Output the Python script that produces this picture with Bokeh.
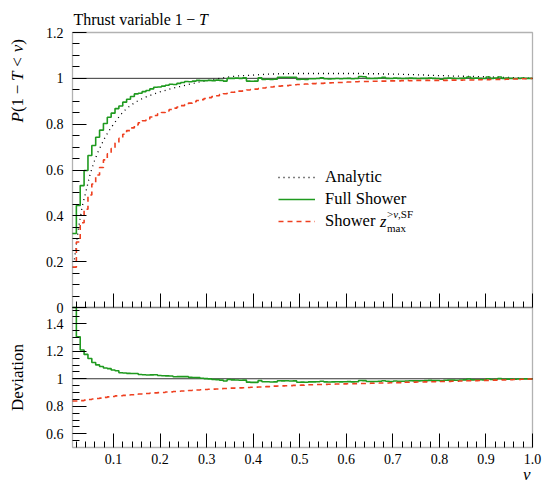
import math
import numpy as np
from bokeh.plotting import figure
from bokeh.models import Range1d, LinearAxis, FixedTicker, Label, Legend, LegendItem, BoxAnnotation
from bokeh.embed import file_html
from bokeh.resources import INLINE

# ---------------- data ----------------
analytic = [
    0.21, 0.341, 0.44, 0.508, 0.578, 0.632, 0.675, 0.711, 0.745, 0.773,
    0.797, 0.82, 0.842, 0.86, 0.875, 0.887, 0.898, 0.907, 0.915, 0.922,
    0.928, 0.934, 0.94, 0.945, 0.95, 0.955, 0.959, 0.963, 0.967, 0.971,
    0.975, 0.979, 0.983, 0.986, 0.989, 0.992, 0.995, 0.998, 1.001, 1.004,
    1.006, 1.008, 1.01, 1.011, 1.012, 1.013, 1.014, 1.015, 1.016, 1.017,
    1.018, 1.019, 1.019, 1.02, 1.02, 1.02, 1.021, 1.021, 1.021, 1.021,
    1.021, 1.021, 1.021, 1.021, 1.021, 1.021, 1.021, 1.021, 1.021, 1.021,
    1.021, 1.021, 1.021, 1.021, 1.021, 1.021, 1.02, 1.02, 1.02, 1.02,
    1.019, 1.019, 1.019, 1.018, 1.018, 1.017, 1.017, 1.016, 1.016, 1.015,
    1.015, 1.014, 1.013, 1.013, 1.012, 1.012, 1.011, 1.011, 1.01, 1.01,
    1.009, 1.009, 1.008, 1.008, 1.008, 1.007, 1.007, 1.006, 1.006, 1.005,
    1.005, 1.004, 1.004, 1.003, 1.003, 1.002, 1.002, 1.001, 1.001,
]
full_shower = [
    0.323, 0.445, 0.532, 0.598, 0.663, 0.707, 0.743, 0.774, 0.803, 0.830,
    0.848, 0.868, 0.879, 0.896, 0.909, 0.921, 0.932, 0.935, 0.942, 0.947,
    0.954, 0.961, 0.962, 0.966, 0.970, 0.974, 0.973, 0.978, 0.982, 0.986,
    0.985, 0.988, 0.991, 0.990, 0.990, 0.991, 0.990, 0.992, 0.991, 0.988,
    1.000, 1.000, 1.001, 1.000, 1.002, 0.988, 0.987, 0.988, 1.002, 0.995,
    0.996, 0.995, 0.996, 1.005, 1.004, 1.005, 1.004, 1.005, 0.995, 0.996,
    0.995, 0.998, 0.998, 0.999, 1.002, 0.998, 0.997, 0.998, 0.999, 0.998,
    0.999, 1.000, 0.998, 0.999, 1.008, 1.007, 1.000, 0.999, 1.000, 1.001,
    1.004, 1.000, 0.999, 1.001, 1.000, 0.999, 1.000, 1.001, 1.000, 0.999,
    1.000, 1.000, 1.001, 1.000, 0.999, 0.996, 1.000, 1.001, 1.000, 0.999,
    1.000, 1.001, 1.006, 1.000, 1.001, 1.000, 0.999, 1.006, 1.000, 1.001,
    1.006, 1.000, 1.001, 1.000, 0.999, 1.000, 1.001, 1.000, 1.000,
]
shower_zmax = [
    0.176, 0.286, 0.37, 0.429, 0.491, 0.539, 0.578, 0.611, 0.644, 0.671,
    0.694, 0.718, 0.738, 0.756, 0.772, 0.784, 0.797, 0.806, 0.815, 0.823,
    0.831, 0.838, 0.845, 0.851, 0.858, 0.864, 0.87, 0.875, 0.881, 0.886,
    0.892, 0.898, 0.903, 0.907, 0.912, 0.916, 0.92, 0.924, 0.929, 0.933,
    0.936, 0.939, 0.942, 0.944, 0.946, 0.949, 0.951, 0.953, 0.955, 0.958,
    0.96, 0.962, 0.964, 0.966, 0.967, 0.968, 0.97, 0.972, 0.973, 0.974,
    0.975, 0.976, 0.977, 0.978, 0.978, 0.979, 0.98, 0.981, 0.982, 0.982,
    0.983, 0.984, 0.984, 0.985, 0.986, 0.986, 0.986, 0.987, 0.987, 0.988,
    0.988, 0.988, 0.989, 0.989, 0.989, 0.99, 0.991, 0.99, 0.991, 0.991,
    0.991, 0.991, 0.991, 0.991, 0.991, 0.992, 0.991, 0.992, 0.992, 0.992,
    0.992, 0.993, 0.993, 0.993, 0.994, 0.994, 0.995, 0.994, 0.995, 0.995,
    0.995, 0.995, 0.996, 0.996, 0.997, 0.997, 0.998, 0.998, 0.999,
]
x_ticks = [0.1, 0.2, 0.3, 0.4, 0.5, 0.6, 0.7, 0.8, 0.9, 1.0]
main_y_ticks = [0, 0.2, 0.4, 0.6, 0.8, 1.0, 1.2]
dev_y_ticks = [0.6, 0.8, 1.0, 1.2, 1.4]

# ---------------- geometry ----------------
X_START, X_END = 0.0118, 1.0
MAIN_TOP = 1.2
DEV_MIN = 0.5
edges = np.linspace(X_START, X_END, len(analytic) + 1)
centers = 0.5 * (edges[:-1] + edges[1:])

A = np.array(analytic)
G = np.array(full_shower)
R = np.array(shower_zmax)

W, H = 544, 484
# page pixel positions of the panels
FL, FR = 72, 532          # frame left / right
FT, FM, FBOT = 32, 307, 447  # main top, main bottom (= deviation top), deviation bottom
x_ppu = (FR - FL) / (X_END - X_START)
main_ppu = (FM - FT) / MAIN_TOP
dev_ppu = 137.5
DEV_TOP = DEV_MIN + (FBOT - FM) / dev_ppu
MAIN_DEV_BOTTOM = -(FBOT - FM) / main_ppu   # deviation-panel bottom, in main units

SERIF = "Liberation Serif"
GREEN = "#1f9a1f"
RED = "#ee4020"

p = figure(width=W, height=H,
           x_range=Range1d(X_START - FL / x_ppu, X_END + (W - FR) / x_ppu),
           y_range=Range1d(-(H - FM) / main_ppu, MAIN_TOP + FT / main_ppu),
           x_axis_location=None, y_axis_location=None,
           output_backend="svg", toolbar_location=None,
           min_border_left=0, min_border_right=0, min_border_top=0, min_border_bottom=0)
p.extra_y_ranges = {"dev": Range1d(DEV_MIN - (H - FBOT) / dev_ppu, DEV_MIN + FBOT / dev_ppu)}
p.xgrid.visible = False
p.ygrid.visible = False
p.outline_line_color = None
p.background_fill_color = "white"
p.border_fill_color = "white"


def style_axis(ax, minor_len=7):
    ax.major_tick_in = 14
    ax.major_tick_out = 0
    ax.minor_tick_in = minor_len
    ax.minor_tick_out = 0
    ax.axis_line_color = None
    ax.major_tick_line_color = "black"
    ax.minor_tick_line_color = "black"
    ax.major_tick_line_width = 1
    ax.minor_tick_line_width = 1
    ax.major_label_text_font = SERIF
    ax.major_label_text_font_size = "14px"
    ax.major_label_text_color = "black"


x_minor = [round(0.02 * k, 2) for k in range(1, 50) if k % 5]

# bottom x axis (with labels), drawn at the bottom of the deviation panel
xax = LinearAxis(fixed_location=MAIN_DEV_BOTTOM, ticker=FixedTicker(ticks=x_ticks, minor_ticks=x_minor))
style_axis(xax, 6)
xax.major_label_overrides = {1.0: "1.0"}
xax.major_label_standoff = 6
p.add_layout(xax, "below")

# x ticks along the bottom of the main panel
xax2 = LinearAxis(fixed_location=0, ticker=FixedTicker(ticks=x_ticks, minor_ticks=x_minor))
style_axis(xax2, 6)
xax2.major_label_overrides = {t: "" for t in x_ticks}
xax2.major_label_standoff = 0
p.add_layout(xax2, "below")

# main y axis
yax = LinearAxis(fixed_location=X_START,
                 ticker=FixedTicker(ticks=main_y_ticks,
                                    minor_ticks=[round(0.05 * k, 2) for k in range(1, 24) if k % 4]))
style_axis(yax, 7)
yax.major_label_overrides = {0: "0", 1: "1"}
yax.major_label_standoff = 9
p.add_layout(yax, "left")

# deviation y axis
dax = LinearAxis(y_range_name="dev", fixed_location=X_START,
                 ticker=FixedTicker(ticks=dev_y_ticks,
                                    minor_ticks=[round(0.5 + 0.05 * k, 2) for k in range(1, 21) if k % 4 != 2]))
style_axis(dax, 7)
dax.major_label_overrides = {1.0: "1"}
dax.major_label_standoff = 9
p.add_layout(dax, "left")

# reference lines at 1
p.segment(x0=[X_START], x1=[X_END], y0=[1.0], y1=[1.0], line_color="black", line_width=0.8)
p.segment(x0=[X_START], x1=[X_END], y0=[1.0], y1=[1.0], line_color="black", line_width=0.8,
          y_range_name="dev")

# main panel curves
xs = list(edges)
r_a = p.line(list(centers), analytic, line_color="black", line_width=1.3, line_dash="1 4")
r_g = p.step(xs, full_shower + [full_shower[-1]], mode="after", line_color=GREEN, line_width=1.6)
r_r = p.step(xs, shower_zmax + [shower_zmax[-1]], mode="after", line_color=RED, line_width=1.6,
             line_dash="5 4")

# deviation panel curves (clipped at the top of the panel)
dev_g = np.minimum(G / A, DEV_TOP)
dev_r = R / A
p.step(xs, list(dev_g) + [dev_g[-1]], mode="after", line_color=GREEN, line_width=1.6, y_range_name="dev")
p.step(xs, list(dev_r) + [dev_r[-1]], mode="after", line_color=RED, line_width=1.6,
       line_dash="5 4", y_range_name="dev")

# panel frames
p.add_layout(BoxAnnotation(left=X_START, right=X_END, bottom=0, top=MAIN_TOP,
                           fill_color=None, fill_alpha=0, line_color="black", line_width=1.3))
p.add_layout(BoxAnnotation(left=X_START, right=X_END, bottom=MAIN_DEV_BOTTOM, top=0,
                           fill_color=None, fill_alpha=0, line_color="black", line_width=1.3))

# legend
legend = Legend(items=[LegendItem(label="Analytic", renderers=[r_a]),
                       LegendItem(label="Full Shower", renderers=[r_g]),
                       LegendItem(label="Shower", renderers=[r_r])],
                location=(278, H - 231), glyph_width=37, glyph_height=18, label_height=18,
                label_standoff=10, spacing=2, padding=0, margin=0,
                border_line_color=None, background_fill_alpha=0,
                label_text_font=SERIF, label_text_font_size="16.5px", label_text_color="black")
p.add_layout(legend)


# ---------------- texts (positions in page pixels) ----------------
def txt(text, px, py, size="16px", style="normal", align="left", baseline="middle", angle=0.0):
    p.add_layout(Label(x=X_START, y=0, x_units="data", y_units="data",
                       x_offset=px - FL, y_offset=FM - py, text=text,
                       text_font=SERIF, text_font_size=size, text_font_style=style,
                       text_align=align, text_baseline=baseline, angle=angle,
                       text_color="black"))


# title
em = 16
txt("Thrust variable 1", 73, 19, "16px", baseline="alphabetic")
x_minus = 73 + 6.832 * em + 0.22 * em
txt("\u2212", x_minus, 19, "16px", baseline="alphabetic")
txt("T", x_minus + 0.564 * em + 0.22 * em, 19, "16px", "italic", baseline="alphabetic")

# y label of main panel, rotated, built piecewise
em = 17
pieces = [("P", "italic", 0.611, 0.0), ("(1", "normal", 0.833, 0.0),
          ("\u2212", "normal", 0.564, 0.22), ("T", "italic", 0.556, 0.22),
          ("<", "normal", 0.564, 0.28), ("v", "italic", 0.444, 0.28),
          (")", "normal", 0.333, 0.0)]
pos = 122.0
for text, style, w, gap in pieces:
    pos -= gap * em
    txt(text, 17, pos, "17px", style, align="left", baseline="middle", angle=math.pi / 2)
    pos -= w * em

# deviation label
txt("Deviation", 17, 377, "17px", align="center", baseline="middle", angle=math.pi / 2)

# x label
txt("v", 530, 474, "17px", "italic", align="right", baseline="alphabetic")

# sub/superscripts of the third legend entry
row_y = 221
z_x = 325 + 3.305 * 16.5
txt("z", z_x, row_y, "16.5px", "italic")
s_x = z_x + 0.389 * 16.5 + 0.5
txt("max", s_x, row_y + 6, "11px")
txt(">", s_x, row_y - 8, "11px")
txt("v", s_x + 0.564 * 11, row_y - 8, "11px", "italic")
txt(",SF", s_x + 0.564 * 11 + 0.444 * 11, row_y - 8, "11px")

open("out.html", "w").write(file_html(p, INLINE))
